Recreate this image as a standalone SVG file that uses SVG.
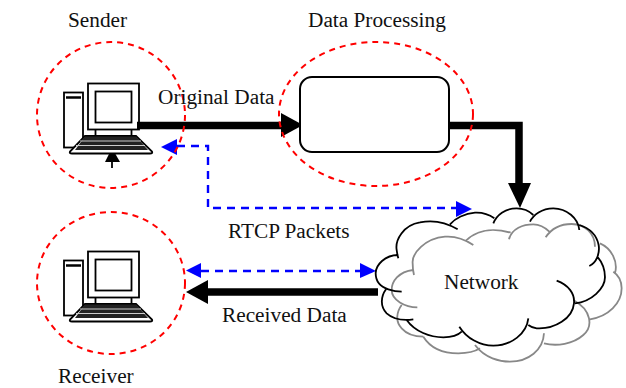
<svg xmlns="http://www.w3.org/2000/svg" width="626" height="388" viewBox="0 0 626 388">
<style>
text{font-family:"Liberation Serif","Times New Roman",serif;font-size:21.3px;fill:#111}
.zone{fill:none;stroke:#f00;stroke-width:2;stroke-dasharray:6 5}
.thick{fill:none;stroke:#000;stroke-width:7.500}
.blue{fill:none;stroke:#00f;stroke-width:2.400;stroke-dasharray:8 6}
.bh{fill:#00f}
.k{fill:#000}
.pc{fill:none;stroke:#000;stroke-width:1.8}
.cb{fill:none;stroke:#000;stroke-width:5.400}
.cg{fill:none;stroke:#888;stroke-width:5.400}
</style>
<defs>
<g id="computer">
<rect class="pc" x="88" y="83.500" width="51" height="46"/>
<rect class="pc" x="95.500" y="91.500" width="36" height="31"/>
<rect class="pc" x="64" y="92.500" width="19" height="55"/>
<path d="M66 97.500H81" stroke="#000" stroke-width="2.500"/>
<path class="pc" d="M95.500 129.500V136M131.500 129.500V136"/>
<path d="M85 136H136L152 151.500Q153 153.500 150 153.500H72Q69 153.500 70 151.500Z" fill="#fff" stroke="#000" stroke-width="1.800"/>
<path d="M85 136.500H136L148 150H75Z" fill="#222"/>
<path d="M80 141H141M76 145.500H145" stroke="#ccc" stroke-width="1"/>
</g>
</defs>
<g id="connectors">
<path class="thick" d="M137 125.500H285"/><path class="k" d="M303 125L281 113V137Z"/>
<path class="thick" d="M449 125.500H519V186"/><path class="k" d="M520 208L508 183H531Z"/>
<path class="thick" d="M378 292H206"/><path class="k" d="M186 292L208 280V304Z"/>
<path d="M112 168V158" stroke="#000" stroke-width="1.800"/><path class="k" d="M112 148L105 162H120Z"/>
<path class="blue" d="M177 146H208V208H456"/><path class="bh" d="M161 147L177 139V155Z"/><path class="bh" d="M472 209L456 201V217Z"/>
<path class="blue" d="M201 271H360"/><path class="bh" d="M186 270.500L201 263V278Z"/><path class="bh" d="M376 271L360 263V278Z"/>
</g>
<g id="sender"><ellipse class="zone" cx="111" cy="115" rx="74" ry="73"/><use href="#computer"/><text x="68" y="27">Sender</text></g>
<g id="data-processing"><ellipse class="zone" cx="376" cy="114" rx="97" ry="72"/><rect x="300" y="77" width="149" height="75" rx="12" fill="#fff" stroke="#000" stroke-width="2"/><text x="308" y="27">Data Processing</text></g>
<g id="receiver"><ellipse class="zone" cx="111" cy="283" rx="74" ry="71"/><use href="#computer" y="168"/><text x="58" y="383">Receiver</text></g>
<g id="network">
<g transform="translate(360 190) scale(.3333)">
<path class="cg" d="M340 165C310 145 280 138 255 140C195 145 155 190 158 220Q158 240 162 255M160 240C115 245 95 275 95 300C95 330 135 352 172 352M125 345C110 365 105 395 125 415C140 432 165 440 190 440M190 440C215 480 260 490 295 490C325 490 345 485 360 475M345 465C375 505 420 515 450 515C505 515 550 480 552 430M552 460C590 470 640 462 670 435C700 410 695 360 640 330M690 388C745 380 785 340 785 295C785 270 775 255 760 245M765 250C775 215 755 175 720 160M557 142C575 115 605 102 635 102C675 102 705 130 705 170M447 148C455 115 490 103 520 103C540 103 555 112 568 125M318 152C345 125 390 110 452 128"/>
<path class="cb" d="M293 118C255 95 215 90 180 97C130 105 105 150 110 180Q112 195 115 205M115 195C75 195 47 225 47 250C47 272 60 290 85 298Q105 305 125 305M78 298C62 320 60 350 80 370C100 388 130 392 160 388M140 390C165 425 210 442 250 442C275 442 295 435 305 425M298 410C320 445 360 467 400 467C455 467 500 430 505 385M590 272C625 285 645 310 642 340C638 385 585 418 530 415Q515 413 505 405M645 340C695 335 735 295 735 262C735 235 725 215 712 200M688 228C710 218 720 190 716 165C710 135 690 115 658 105M658 120C655 85 620 55 580 55C545 55 520 75 510 95M520 75C505 60 490 55 470 55C435 55 410 75 400 100M403 85C385 72 365 67 345 68C315 70 285 85 270 103"/>
</g>
<text x="444" y="289">Network</text>
</g>
<g id="labels">
<text x="158" y="104">Original Data</text>
<text x="228" y="238">RTCP Packets</text>
<text x="222" y="322">Received Data</text>
</g>
</svg>
